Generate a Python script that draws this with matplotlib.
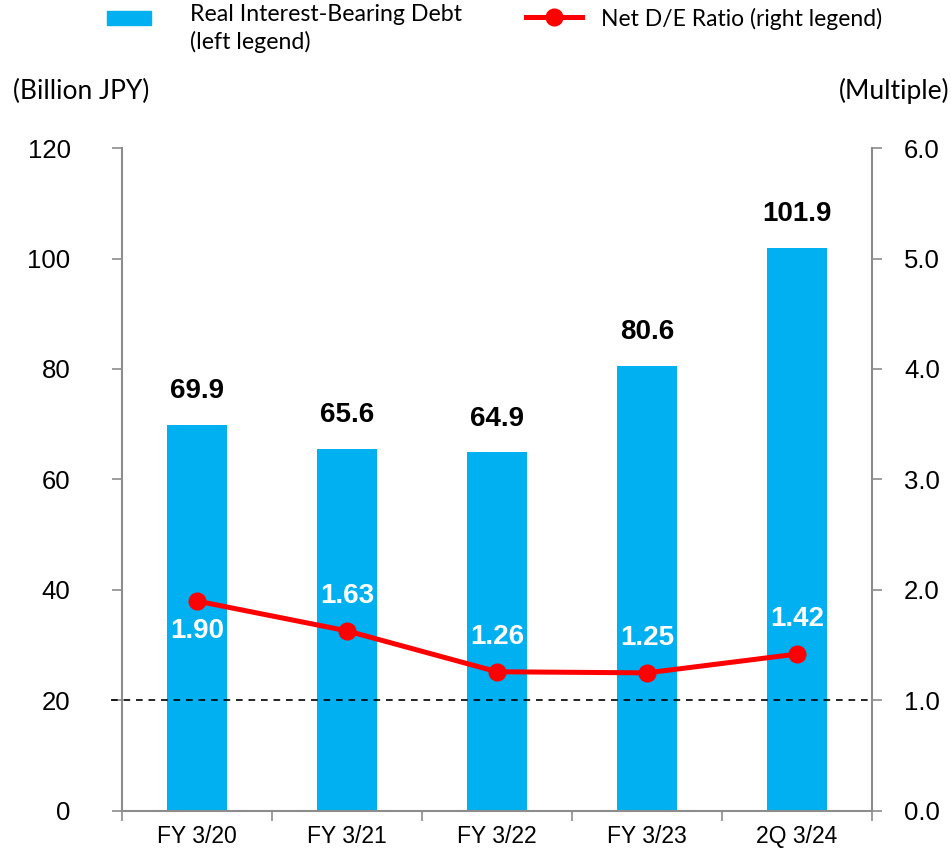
import matplotlib.pyplot as plt
from matplotlib.lines import Line2D
from matplotlib.patches import Rectangle
import numpy as np

# Debt and leverage by period
periods = ['FY 3/20', 'FY 3/21', 'FY 3/22', 'FY 3/23', '2Q 3/24']
debt = [69.9, 65.6, 64.9, 80.6, 101.9]          # billion JPY
de_ratio = [1.90, 1.63, 1.26, 1.25, 1.42]        # multiple
de_label_above = [False, True, True, True, True]

left_ticks = [0, 20, 40, 60, 80, 100, 120]
right_ticks = [0.0, 1.0, 2.0, 3.0, 4.0, 5.0, 6.0]

BLUE = '#00B0F0'
RED = '#FF0000'
GREY = '#8C8C8C'
NUM_FONT = 'Liberation Sans'
TXT_FONT = 'Lato'

fig = plt.figure(figsize=(9.51, 8.58), dpi=100)
ax = fig.add_axes([0.1283, 0.0548, 0.7886, 0.7727])
ax2 = ax.twinx()

x = np.arange(len(periods))

# bars (left axis)
ax.bar(x, debt, width=0.4, color=BLUE, zorder=2)
for xi, v in zip(x, debt):
    ax.annotate(f'{v:.1f}', (xi, v), xytext=(0, 15), textcoords='offset points',
                ha='center', va='bottom', fontsize=20, fontweight='bold',
                family=NUM_FONT, color='black')

# reference line at 1.0x
ax2.plot([-0.015, 1.0], [1.0, 1.0], transform=ax2.get_yaxis_transform(),
         color='black', linestyle=(0, (4, 3.5)), linewidth=1.2, clip_on=False, zorder=3)

# net D/E line (right axis)
ax2.plot(x, de_ratio, color=RED, linewidth=3.6, marker='o', markersize=12, zorder=4)
for xi, v, above in zip(x, de_ratio, de_label_above):
    dy = 16 if above else -12
    ax2.annotate(f'{v:.2f}', (xi, v), xytext=(0, dy), textcoords='offset points',
                 ha='center', va='bottom' if above else 'top', fontsize=20,
                 fontweight='bold', family=NUM_FONT, color='white', zorder=5)

ax.set_xlim(-0.5, len(periods) - 0.5)
ax.set_ylim(0, 120)
ax2.set_ylim(0, 6)

ax.set_yticks(left_ticks)
ax.set_yticklabels([str(t) for t in left_ticks])
ax2.set_yticks(right_ticks)
ax2.set_yticklabels([f'{t:.1f}' for t in right_ticks])

ax.set_xticks(x)
ax.set_xticklabels(periods)
ax.set_xticks(np.arange(-0.5, len(periods)), minor=True)
ax.tick_params(axis='x', which='major', length=0, pad=10, labelsize=16.5)
ax.tick_params(axis='x', which='minor', length=7, width=1.2, color=GREY, direction='out')
ax.tick_params(axis='y', length=7, width=1.2, color=GREY, pad=30, labelsize=18.5)
ax2.tick_params(axis='y', length=7, width=1.2, color=GREY, pad=16, labelsize=18.5)
for lab in ax.get_xticklabels() + ax.get_yticklabels() + ax2.get_yticklabels():
    lab.set_family(NUM_FONT)

for a in (ax, ax2):
    a.spines['top'].set_visible(False)
    for s in ('left', 'right', 'bottom'):
        a.spines[s].set_color(GREY)
        a.spines[s].set_linewidth(1.5)
ax.spines['right'].set_visible(False)
ax2.spines['left'].set_visible(False)
ax2.spines['bottom'].set_visible(False)

# axis unit labels
fig.text(13 / 951, 1 - 91 / 858, '(Billion JPY)', ha='left', va='center',
         fontsize=19, family=TXT_FONT)
fig.text(949 / 951, 1 - 91 / 858, '(Multiple)', ha='right', va='center',
         fontsize=19, family=TXT_FONT)

# legend drawn in figure space
fig.add_artist(Rectangle((107 / 951, 1 - 25 / 858), 44 / 951, 14 / 858,
                         transform=fig.transFigure, color=BLUE))
fig.text(190 / 951, 1 - 4 / 858, 'Real Interest-Bearing Debt\n(left legend)',
         ha='left', va='top', fontsize=16.7, family=TXT_FONT, linespacing=1.3)
fig.add_artist(Line2D([526 / 951, 582 / 951], [1 - 17 / 858, 1 - 17 / 858],
                      transform=fig.transFigure, color=RED, linewidth=3.6))
fig.add_artist(Line2D([554 / 951], [1 - 17 / 858], transform=fig.transFigure,
                      color=RED, marker='o', markersize=12))
fig.text(601 / 951, 1 - 19 / 858, 'Net D/E Ratio (right legend)',
         ha='left', va='center', fontsize=16.5, family=TXT_FONT)

fig.savefig('out.png', dpi=100)
